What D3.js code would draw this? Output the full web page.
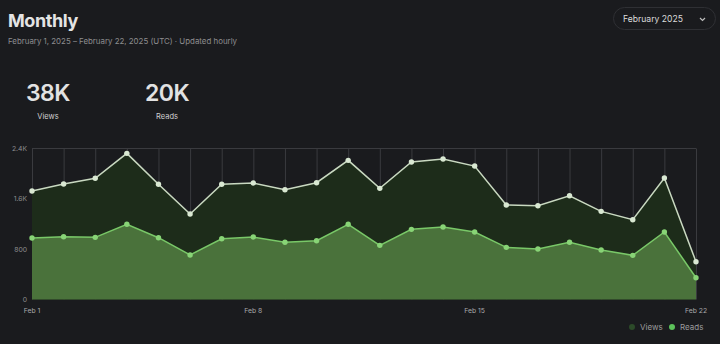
<!DOCTYPE html>
<html><head><meta charset="utf-8">
<script src="https://cdn.jsdelivr.net/npm/d3@7"></script>
<style>
html,body{margin:0;padding:0;background:#1a1b1e;}
svg{display:block;font-family:Inter,"Noto Sans",sans-serif;}
</style></head>
<body><svg id="c" width="720" height="344"></svg>
<script>
const days = ["Feb 1","Feb 2","Feb 3","Feb 4","Feb 5","Feb 6","Feb 7","Feb 8","Feb 9","Feb 10","Feb 11","Feb 12","Feb 13","Feb 14","Feb 15","Feb 16","Feb 17","Feb 18","Feb 19","Feb 20","Feb 21","Feb 22"];
const views = [1724,1835,1926,2323,1831,1359,1831,1851,1745,1856,2212,1767,2185,2233,2121,1502,1490,1649,1401,1268,1931,601];
const reads = [977,998,988,1195,982,707,966,993,909,934,1195,861,1115,1152,1073,829,802,909,787,702,1073,346];
const yTicks = [0,800,1600,2400];
const yTickLabels = ["0","800","1.6K","2.4K"];
const xTickLabels = ["Feb 1","Feb 8","Feb 15","Feb 22"];

const svg = d3.select("#c");
svg.append("rect").attr("width",720).attr("height",344).attr("fill","#1a1b1e");

// Header
svg.append("text").attr("x",8).attr("y",26.5).attr("fill","#e4e4e4").attr("font-size",18).attr("font-weight",700).attr("letter-spacing",-0.4).text("Monthly");
svg.append("text").attr("x",8).attr("y",44).attr("fill","#8d8d8f").attr("font-size",7.9).text("February 1, 2025 – February 22, 2025 (UTC)  ·  Updated hourly");

// Dropdown
svg.append("rect").attr("x",613.5).attr("y",7.5).attr("width",102).attr("height",22).attr("rx",11).attr("fill","#1a1b1e").attr("stroke","#2f3034");
svg.append("text").attr("x",623).attr("y",22).attr("fill","#dcdcdc").attr("font-size",8.6).text("February 2025");
svg.append("path").attr("d","M700,18 l2.5,2.5 l2.5,-2.5").attr("fill","none").attr("stroke","#bdbdbd").attr("stroke-width",1.2);

// Stats
const stats = [{v:"38K",l:"Views",cx:48},{v:"20K",l:"Reads",cx:167}];
stats.forEach(s=>{
  svg.append("text").attr("x",s.cx).attr("y",101).attr("text-anchor","middle").attr("fill","#e2e2e2").attr("font-size",23).attr("font-weight",600).attr("letter-spacing",-0.5).text(s.v);
  svg.append("text").attr("x",s.cx).attr("y",119).attr("text-anchor","middle").attr("fill","#cfcfcf").attr("font-size",7.5).text(s.l);
});

// Scales
const x = d3.scalePoint().domain(days).range([32,696]);
const y = d3.scaleLinear().domain([0,2400]).range([299.5,148.5]);

// Grid
const g = svg.append("g");
g.selectAll("line.v").data(days).join("line")
  .attr("x1",d=>x(d)+0.5).attr("x2",d=>x(d)+0.5).attr("y1",y(2400)).attr("y2",y(0))
  .attr("stroke","#3a3b3f").attr("stroke-width",1);
g.append("line").attr("x1",32).attr("x2",696).attr("y1",y(2400)).attr("y2",y(2400)).attr("stroke","#3a3b3f");

// Areas
const areaV = d3.area().x((d,i)=>x(days[i])).y0(y(0)).y1(d=>y(d));
svg.append("path").datum(views).attr("d",areaV).attr("fill","#1d2c1a");
svg.append("path").datum(reads).attr("d",areaV).attr("fill","#4a723b");

// Lines
const line = d3.line().x((d,i)=>x(days[i])).y(d=>y(d));
svg.append("path").datum(views).attr("d",line).attr("fill","none").attr("stroke","#c9d9c1").attr("stroke-width",1.5);
svg.append("path").datum(reads).attr("d",line).attr("fill","none").attr("stroke","#79c868").attr("stroke-width",1.5);

// Points
svg.append("g").selectAll("circle").data(views).join("circle")
  .attr("cx",(d,i)=>x(days[i])).attr("cy",d=>y(d)).attr("r",2.7).attr("fill","#d9e8d2");
svg.append("g").selectAll("circle").data(reads).join("circle")
  .attr("cx",(d,i)=>x(days[i])).attr("cy",d=>y(d)).attr("r",2.7).attr("fill","#88d476");

// Y axis labels
svg.append("g").selectAll("text").data(yTicks).join("text")
  .attr("x",27).attr("y",d=>y(d)+2.5).attr("text-anchor","end").attr("fill","#8e8e90").attr("font-size",6.8)
  .text((d,i)=>yTickLabels[i]);

// X axis labels
svg.append("g").selectAll("text").data(xTickLabels).join("text")
  .attr("x",d=>x(d)).attr("y",313).attr("text-anchor","middle").attr("fill","#a9a9ab").attr("font-size",6.8)
  .text(d=>d);

// Legend
const legend = [{l:"Views",c:"#2c4a29",x:632},{l:"Reads",c:"#5cc15a",x:672}];
legend.forEach(e=>{
  svg.append("circle").attr("cx",e.x).attr("cy",327).attr("r",3).attr("fill",e.c);
  svg.append("text").attr("x",e.x+8).attr("y",330).attr("fill","#9a9a9c").attr("font-size",8).text(e.l);
});
</script></body></html>
